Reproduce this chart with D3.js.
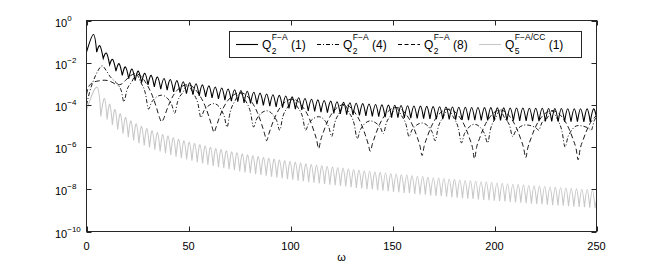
<!DOCTYPE html>
<html><head><meta charset="utf-8">
<script src="https://cdn.jsdelivr.net/npm/d3@7"></script>
<style>body{margin:0;background:#fff}svg text{font-family:"Liberation Sans",Arial,sans-serif;fill:#000}</style>
</head><body><svg id="c" width="664" height="266"></svg>
<script>
// ---- data (omega, log10 of value) ----
const xTicks = [0, 50, 100, 150, 200, 250];
const yTickExps = [0, -2, -4, -6, -8, -10];
const xLabel = "ω";
const legendNames = [
  {base: "Q", sub: "2", sup: "F−A", tail: " (1)"},
  {base: "Q", sub: "2", sup: "F−A", tail: " (4)"},
  {base: "Q", sub: "2", sup: "F−A", tail: " (8)"},
  {base: "Q", sub: "5", sup: "F−A/CC", tail: " (1)"}
];
// Q2 F-A (1): alternating trough / peak
const solidLog10 = [[0,-1.5],[3.4,-0.66],[5.0,-1.5],[6.6,-1.2],[8.2,-1.8],[9.8,-1.55],[11.35,-2.1],[12.9,-1.85],[14.45,-2.4],[16.0,-2.05],[17.55,-2.6],[19.1,-2.2],[20.7,-2.75],[22.3,-2.3],[23.85,-2.85],[25.4,-2.4],[27.0,-2.95],[28.6,-2.5],[30.15,-3.05],[31.7,-2.6],[33.25,-3.15],[34.8,-2.68],[36.4,-3.25],[38.0,-2.75],[39.55,-3.3],[41.1,-2.8],[42.7,-3.38],[44.3,-2.85],[45.85,-3.42],[47.4,-2.9],[49.0,-3.47],[50.6,-2.95],[52.15,-3.52],[53.7,-3.0],[55.25,-3.57],[56.8,-3.05],[58.4,-3.62],[60.0,-3.1],[61.55,-3.67],[63.1,-3.15],[64.7,-3.72],[66.3,-3.2],[67.85,-3.77],[69.4,-3.25],[71.0,-3.82],[72.6,-3.28],[74.15,-3.85],[75.7,-3.32],[77.25,-3.9],[78.8,-3.35],[80.4,-3.93],[82.0,-3.4],[83.55,-3.97],[85.1,-3.44],[86.7,-4.02],[88.3,-3.48],[89.85,-4.06],[91.4,-3.52],[92.95,-4.1],[94.5,-3.55],[96.1,-4.13],[97.7,-3.58],[99.25,-4.17],[100.8,-3.62],[102.4,-4.2],[104.0,-3.66],[105.55,-4.24],[107.1,-3.7],[108.7,-4.28],[110.3,-3.73],[111.85,-4.31],[113.4,-3.76],[114.95,-4.34],[116.5,-3.79],[118.1,-4.37],[119.7,-3.82],[121.25,-4.4],[122.8,-3.85],[124.4,-4.43],[126.0,-3.88],[127.55,-4.46],[129.1,-3.9],[130.65,-4.48],[132.2,-3.92],[133.8,-4.5],[135.4,-3.94],[136.95,-4.52],[138.5,-3.96],[140.1,-4.54],[141.7,-3.98],[143.25,-4.56],[144.8,-4.0],[146.4,-4.58],[148.0,-4.01],[149.55,-4.6],[151.1,-4.02],[152.65,-4.61],[154.2,-4.03],[155.8,-4.62],[157.4,-4.04],[158.95,-4.63],[160.5,-4.05],[162.1,-4.64],[163.7,-4.06],[165.25,-4.65],[166.8,-4.07],[168.35,-4.66],[169.9,-4.08],[171.5,-4.67],[173.1,-4.09],[174.65,-4.68],[176.2,-4.1],[177.8,-4.69],[179.4,-4.1],[180.95,-4.7],[182.5,-4.11],[184.1,-4.71],[185.7,-4.11],[187.25,-4.72],[188.8,-4.12],[190.35,-4.72],[191.9,-4.12],[193.5,-4.73],[195.1,-4.13],[196.65,-4.73],[198.2,-4.13],[199.8,-4.74],[201.4,-4.14],[202.95,-4.74],[204.5,-4.14],[206.1,-4.75],[207.7,-4.15],[209.25,-4.75],[210.8,-4.15],[212.35,-4.76],[213.9,-4.15],[215.5,-4.76],[217.1,-4.16],[218.65,-4.77],[220.2,-4.16],[221.8,-4.77],[223.4,-4.16],[224.95,-4.78],[226.5,-4.17],[228.05,-4.78],[229.6,-4.17],[231.2,-4.79],[232.8,-4.17],[234.35,-4.79],[235.9,-4.18],[237.5,-4.8],[239.1,-4.18],[240.65,-4.8],[242.2,-4.18],[243.8,-4.81],[245.4,-4.19],[246.95,-4.81],[248.5,-4.19],[250,-4.6]];
// Q2 F-A (4): dash-dot
const dashDotLog10 = [[0,-4.0],[1.5,-3.4],[3.6,-2.8],[5.5,-2.4],[7.7,-2.15],[9.5,-2.35],[11.5,-2.65],[13.5,-2.85],[15.5,-3.05],[17.1,-3.35],[18.3,-3.85],[19.8,-3.3],[22.3,-2.89],[24.35,-2.54],[26.4,-2.89],[28.9,-3.47],[30.4,-4.2],[31.9,-3.87],[36.8,-3.54],[41.7,-3.97],[43.2,-4.4],[44.7,-3.83],[47.2,-3.41],[49.65,-3.06],[52.1,-3.41],[54.6,-3.93],[56.1,-4.6],[57.6,-4.27],[62.5,-3.94],[67.4,-4.5],[68.9,-5.05],[70.4,-4.35],[72.9,-3.79],[75.4,-3.44],[77.9,-3.79],[80.4,-4.35],[81.9,-5.05],[83.4,-4.67],[88.3,-4.28],[93.2,-4.74],[94.7,-5.2],[96.2,-4.57],[98.7,-4.09],[101.05,-3.74],[103.4,-4.09],[105.9,-4.57],[107.4,-5.2],[108.9,-4.88],[113.8,-4.56],[118.7,-5.03],[120.2,-5.5],[121.7,-4.85],[124.2,-4.35],[126.45,-4.0],[128.7,-4.35],[131.2,-4.9],[132.7,-5.6],[134.2,-5.18],[139.1,-4.76],[144.0,-5.06],[145.5,-5.36],[147.0,-4.85],[149.3,-4.49],[151.8,-4.14],[154.3,-4.49],[156.6,-4.92],[158.1,-5.5],[159.6,-5.18],[164.5,-4.86],[169.4,-5.28],[170.9,-5.7],[172.4,-5.06],[174.9,-4.57],[177.35,-4.22],[179.8,-4.57],[182.3,-5.11],[183.8,-5.8],[185.3,-5.36],[190.2,-4.92],[195.1,-5.36],[196.6,-5.8],[198.1,-5.13],[200.6,-4.61],[202.75,-4.26],[204.9,-4.61],[207.4,-4.98],[208.9,-5.5],[210.4,-5.23],[215.3,-4.95],[220.2,-5.08],[221.7,-5.2],[223.2,-4.85],[225.7,-4.64],[228.15,-4.29],[230.6,-4.64],[233.1,-5.25],[234.6,-6.0],[236.1,-5.49],[241,-4.98],[245.9,-5.09],[247.4,-5.2],[248.9,-4.75],[250,-4.55]];
// Q2 F-A (8): dashed
const dashedLog10 = [[0,-3.5],[1,-3.15],[3,-2.95],[6,-2.86],[9,-2.83],[11,-2.86],[13,-2.95],[15,-3.05],[17,-3.02],[19,-2.85],[21.5,-2.62],[24.2,-2.52],[29.3,-2.98],[32.3,-3.57],[34.3,-4.13],[35.8,-4.6],[36.8,-4.8],[37.8,-4.66],[39.3,-4.25],[41.3,-3.78],[44.3,-3.32],[49.6,-3.04],[55,-3.48],[58,-4.02],[60,-4.55],[61.5,-5.02],[62.5,-5.3],[63.5,-5.06],[65,-4.63],[67,-4.16],[70,-3.71],[75.4,-3.42],[80.8,-3.83],[83.8,-4.37],[85.8,-4.9],[87.3,-5.37],[88.3,-5.7],[89.3,-5.4],[90.8,-4.97],[92.8,-4.49],[95.8,-4.02],[101,-3.72],[106.3,-4.13],[109.3,-4.66],[111.3,-5.19],[112.8,-5.65],[113.8,-6.07],[114.8,-5.67],[116.3,-5.24],[118.3,-4.75],[121.3,-4.28],[126.4,-3.98],[131.6,-4.37],[134.6,-4.89],[136.6,-5.4],[138.1,-5.86],[139.1,-6.2],[140.1,-5.87],[141.6,-5.43],[143.6,-4.94],[146.6,-4.45],[151.8,-4.12],[157,-4.49],[160,-5.0],[162,-5.5],[163.5,-5.96],[164.5,-6.4],[165.5,-5.96],[167,-5.52],[169,-5.03],[172,-4.53],[177.3,-4.2],[182.7,-4.55],[185.7,-5.06],[187.7,-5.57],[189.2,-6.02],[190.2,-6.55],[191.2,-6.02],[192.7,-5.58],[194.7,-5.08],[197.7,-4.58],[202.8,-4.24],[207.8,-4.59],[210.8,-5.1],[212.8,-5.6],[214.3,-6.05],[215.3,-6.5],[216.3,-6.05],[217.8,-5.61],[219.8,-5.11],[222.8,-4.61],[228.2,-4.27],[233.5,-4.62],[236.5,-5.13],[238.5,-5.63],[240,-6.08],[241,-6.6],[242,-6.08],[243.5,-5.64],[245.5,-5.14],[248.5,-4.64],[250,-4.52]];
// Q5 F-A/CC (1): alternating trough / peak
const grayLog10 = [[0,-4.25],[5.2,-3.16],[7.0,-4.55],[8.8,-3.70],[10.1,-4.69],[11.4,-3.98],[12.7,-4.95],[14.0,-4.22],[15.3,-5.17],[16.6,-4.42],[17.9,-5.36],[19.2,-4.60],[20.5,-5.53],[21.8,-4.76],[23.1,-5.68],[24.4,-4.90],[25.7,-5.81],[27.0,-5.02],[28.3,-5.92],[29.6,-5.12],[30.9,-6.02],[32.2,-5.22],[33.5,-6.12],[34.8,-5.31],[36.1,-6.21],[37.4,-5.40],[38.7,-6.29],[40.0,-5.48],[41.3,-6.37],[42.6,-5.56],[43.9,-6.45],[45.2,-5.63],[46.5,-6.52],[47.8,-5.70],[49.1,-6.59],[50.4,-5.77],[51.7,-6.65],[53.0,-5.83],[54.3,-6.71],[55.6,-5.89],[56.9,-6.77],[58.2,-5.95],[59.5,-6.83],[60.8,-6.01],[62.1,-6.89],[63.4,-6.07],[64.7,-6.95],[66.0,-6.12],[67.3,-7.00],[68.6,-6.17],[69.9,-7.05],[71.2,-6.22],[72.5,-7.10],[73.8,-6.27],[75.1,-7.15],[76.4,-6.32],[77.7,-7.20],[79.0,-6.37],[80.3,-7.24],[81.6,-6.41],[82.9,-7.28],[84.2,-6.45],[85.5,-7.32],[86.8,-6.49],[88.1,-7.36],[89.4,-6.53],[90.7,-7.40],[92.0,-6.57],[93.3,-7.44],[94.6,-6.61],[95.9,-7.48],[97.2,-6.65],[98.5,-7.52],[99.8,-6.69],[101.1,-7.55],[102.4,-6.72],[103.7,-7.59],[105.0,-6.76],[106.3,-7.62],[107.6,-6.79],[108.9,-7.66],[110.2,-6.83],[111.5,-7.69],[112.8,-6.86],[114.1,-7.72],[115.4,-6.89],[116.7,-7.75],[118.0,-6.92],[119.3,-7.78],[120.6,-6.95],[121.9,-7.81],[123.2,-6.98],[124.5,-7.84],[125.8,-7.01],[127.1,-7.87],[128.4,-7.04],[129.7,-7.90],[131.0,-7.07],[132.3,-7.93],[133.6,-7.10],[134.9,-7.96],[136.2,-7.13],[137.5,-7.99],[138.8,-7.15],[140.1,-8.01],[141.4,-7.18],[142.7,-8.04],[144.0,-7.21],[145.3,-8.07],[146.6,-7.23],[147.9,-8.09],[149.2,-7.26],[150.5,-8.12],[151.8,-7.28],[153.1,-8.14],[154.4,-7.31],[155.7,-8.17],[157.0,-7.33],[158.3,-8.19],[159.6,-7.36],[160.9,-8.22],[162.2,-7.38],[163.5,-8.24],[164.8,-7.40],[166.1,-8.26],[167.4,-7.43],[168.7,-8.29],[170.0,-7.45],[171.3,-8.31],[172.6,-7.47],[173.9,-8.33],[175.2,-7.49],[176.5,-8.35],[177.8,-7.51],[179.1,-8.37],[180.4,-7.54],[181.7,-8.40],[183.0,-7.56],[184.3,-8.42],[185.6,-7.58],[186.9,-8.44],[188.2,-7.60],[189.5,-8.46],[190.8,-7.62],[192.1,-8.48],[193.4,-7.64],[194.7,-8.50],[196.0,-7.66],[197.3,-8.52],[198.6,-7.68],[199.9,-8.54],[201.2,-7.70],[202.5,-8.56],[203.8,-7.72],[205.1,-8.58],[206.4,-7.74],[207.7,-8.60],[209.0,-7.76],[210.3,-8.62],[211.6,-7.78],[212.9,-8.64],[214.2,-7.80],[215.5,-8.66],[216.8,-7.82],[218.1,-8.68],[219.4,-7.84],[220.7,-8.69],[222.0,-7.85],[223.3,-8.71],[224.6,-7.87],[225.9,-8.73],[227.2,-7.89],[228.5,-8.75],[229.8,-7.91],[231.1,-8.77],[232.4,-7.93],[233.7,-8.78],[235.0,-7.94],[236.3,-8.80],[237.6,-7.96],[238.9,-8.82],[240.2,-7.98],[241.5,-8.84],[242.8,-8.00],[244.1,-8.85],[245.4,-8.01],[246.7,-8.87],[248.0,-8.03],[249.3,-8.89],[250,-8.5]];

// ---- layout ----
const L = 86.5, R = 596.5, T = 20.5, B = 231.5;
const svg = d3.select("#c");
const x = d3.scaleLinear().domain([0, 250]).range([L, R]);
const y = d3.scaleLog().domain([1e-10, 1]).range([B, T]);
const px = d => x(d[0]), py = d => y(Math.pow(10, d[1]));

svg.append("defs").append("clipPath").attr("id", "clip")
  .append("rect").attr("x", L).attr("y", T).attr("width", R - L).attr("height", B - T);
const plot = svg.append("g").attr("clip-path", "url(#clip)");

// arches: trough-peak-trough segments joined with cusps
function archPath(pts) {
  const nat = d3.line().x(px).y(py).curve(d3.curveNatural);
  let d = "";
  for (let i = 0; i + 1 < pts.length; i += 2) {
    const seg = pts.slice(i, i + 3);
    let s = nat(seg);
    if (i > 0) s = s.replace(/^M[^CL]*/, "");
    d += s;
  }
  return d;
}
const smooth = d3.line().x(px).y(py).curve(d3.curveMonotoneX);

plot.append("path").attr("d", archPath(grayLog10))
  .attr("fill", "none").attr("stroke", "#c8c8c8").attr("stroke-width", 1.1);
plot.append("path").attr("d", smooth(dashedLog10))
  .attr("fill", "none").attr("stroke", "#000").attr("stroke-width", 0.9).attr("stroke-dasharray", "5,3");
plot.append("path").attr("d", smooth(dashDotLog10))
  .attr("fill", "none").attr("stroke", "#000").attr("stroke-width", 0.9).attr("stroke-dasharray", "4,2,1,2");
plot.append("path").attr("d", archPath(solidLog10))
  .attr("fill", "none").attr("stroke", "#000").attr("stroke-width", 1.1);

// ---- axes box and ticks ----
const axisColor = "#262626";
svg.append("rect").attr("x", L).attr("y", T).attr("width", R - L).attr("height", B - T)
  .attr("fill", "none").attr("stroke", axisColor).attr("stroke-width", 1);
const tl = 5;
xTicks.forEach(t => {
  const xx = Math.round(x(t)) + 0.5;
  svg.append("line").attr("x1", xx).attr("x2", xx).attr("y1", B).attr("y2", B - tl).attr("stroke", axisColor);
  svg.append("line").attr("x1", xx).attr("x2", xx).attr("y1", T).attr("y2", T + tl).attr("stroke", axisColor);
  svg.append("text").attr("x", x(t)).attr("y", B + 18).attr("text-anchor", "middle")
    .attr("font-size", 11).text(t);
});
yTickExps.forEach(e => {
  const yy = Math.round(y(Math.pow(10, e))) + 0.5;
  svg.append("line").attr("x1", L).attr("x2", L + tl).attr("y1", yy).attr("y2", yy).attr("stroke", axisColor);
  svg.append("line").attr("x1", R).attr("x2", R - tl).attr("y1", yy).attr("y2", yy).attr("stroke", axisColor);
  const g = svg.append("text").attr("x", 55).attr("y", yy + 5).attr("font-size", 11);
  g.append("tspan").text("10");
  g.append("tspan").attr("font-size", 8).attr("dy", -6).text(e === 0 ? "0" : "−" + Math.abs(e));
});
svg.append("text").attr("x", (L + R) / 2).attr("y", 261).attr("text-anchor", "middle")
  .attr("font-size", 11).text(xLabel);

// ---- legend ----
const lg = svg.append("g");
lg.append("rect").attr("x", 229.5).attr("y", 31.5).attr("width", 352).attr("height", 26)
  .attr("fill", "#fff").attr("stroke", axisColor).attr("stroke-width", 1);
const styles = [
  {stroke: "#000", dash: null},
  {stroke: "#000", dash: "4,2,1,2"},
  {stroke: "#000", dash: "4,2.5"},
  {stroke: "#c8c8c8", dash: null}
];
const starts = [236, 317, 398, 479];
legendNames.forEach((n, i) => {
  const x0 = starts[i];
  const ln = lg.append("line").attr("x1", x0).attr("x2", x0 + 22).attr("y1", 44.5).attr("y2", 44.5)
    .attr("stroke", styles[i].stroke).attr("stroke-width", 1.1);
  if (styles[i].dash) ln.attr("stroke-dasharray", styles[i].dash);
  const qx = x0 + 26;
  const q = lg.append("text").attr("x", qx).attr("y", 49).attr("font-size", 12).text(n.base);
  const qw = q.node().getComputedTextLength();
  lg.append("text").attr("x", qx + qw + 0.5).attr("y", 54).attr("font-size", 8.5).text(n.sub);
  const sp = lg.append("text").attr("x", qx + qw + 0.5).attr("y", 40).attr("font-size", 8.5).text(n.sup);
  const sw = sp.node().getComputedTextLength();
  lg.append("text").attr("x", qx + qw + 0.5 + sw).attr("y", 49).attr("font-size", 12).attr("xml:space", "preserve").text(n.tail);
});
</script></body></html>
